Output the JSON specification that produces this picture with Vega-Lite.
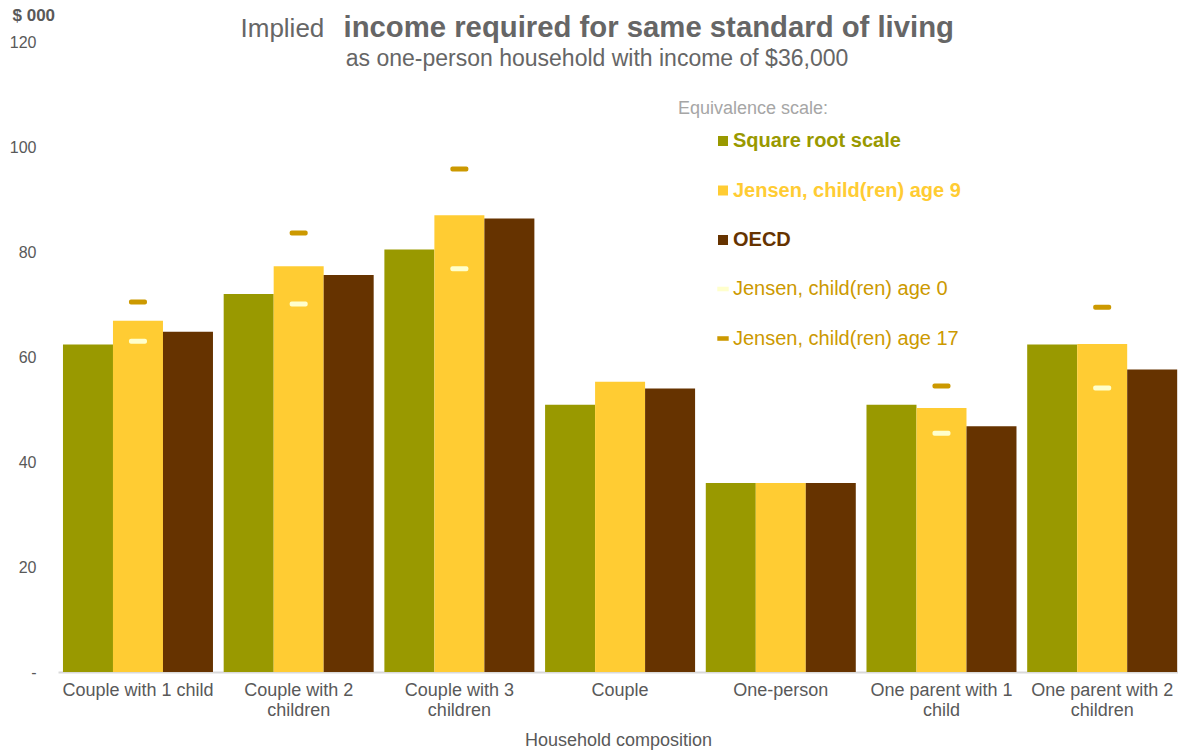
{
  "$schema": "https://vega.github.io/schema/vega-lite/v6.json",
  "width": 1120,
  "height": 630,
  "autosize": "none",
  "padding": {"left": 58, "top": 42, "right": 0, "bottom": 79},
  "background": "white",
  "config": {"view": {"stroke": null}, "font": "Liberation Sans"},
  "title": {
    "text": "as one-person household with income of $36,000",
    "fontSize": 23,
    "fontWeight": "normal",
    "color": "#666666",
    "anchor": "middle",
    "frame": "group",
    "baseline": "alphabetic",
    "dx": -21,
    "offset": -83
  },
  "datasets": {
    "bars": [
      {"household": "Couple with 1 child", "scale": "Square root scale", "value": 62.4},
      {"household": "Couple with 1 child", "scale": "Jensen, child(ren) age 9", "value": 66.9},
      {"household": "Couple with 1 child", "scale": "OECD", "value": 64.8},
      {"household": "Couple with 2 children", "scale": "Square root scale", "value": 72.0},
      {"household": "Couple with 2 children", "scale": "Jensen, child(ren) age 9", "value": 77.3},
      {"household": "Couple with 2 children", "scale": "OECD", "value": 75.6},
      {"household": "Couple with 3 children", "scale": "Square root scale", "value": 80.5},
      {"household": "Couple with 3 children", "scale": "Jensen, child(ren) age 9", "value": 87.0},
      {"household": "Couple with 3 children", "scale": "OECD", "value": 86.4},
      {"household": "Couple", "scale": "Square root scale", "value": 50.9},
      {"household": "Couple", "scale": "Jensen, child(ren) age 9", "value": 55.3},
      {"household": "Couple", "scale": "OECD", "value": 54.0},
      {"household": "One-person", "scale": "Square root scale", "value": 36.0},
      {"household": "One-person", "scale": "Jensen, child(ren) age 9", "value": 36.0},
      {"household": "One-person", "scale": "OECD", "value": 36.0},
      {"household": "One parent with 1 child", "scale": "Square root scale", "value": 50.9},
      {"household": "One parent with 1 child", "scale": "Jensen, child(ren) age 9", "value": 50.3},
      {"household": "One parent with 1 child", "scale": "OECD", "value": 46.8},
      {"household": "One parent with 2 children", "scale": "Square root scale", "value": 62.4},
      {"household": "One parent with 2 children", "scale": "Jensen, child(ren) age 9", "value": 62.5},
      {"household": "One parent with 2 children", "scale": "OECD", "value": 57.6}
    ],
    "markers": [
      {"household": "Couple with 1 child", "scale": "Jensen, child(ren) age 0", "value": 63.0},
      {"household": "Couple with 1 child", "scale": "Jensen, child(ren) age 17", "value": 70.5},
      {"household": "Couple with 2 children", "scale": "Jensen, child(ren) age 0", "value": 70.1},
      {"household": "Couple with 2 children", "scale": "Jensen, child(ren) age 17", "value": 83.6},
      {"household": "Couple with 3 children", "scale": "Jensen, child(ren) age 0", "value": 76.8},
      {"household": "Couple with 3 children", "scale": "Jensen, child(ren) age 17", "value": 95.8},
      {"household": "One parent with 1 child", "scale": "Jensen, child(ren) age 0", "value": 45.5},
      {"household": "One parent with 1 child", "scale": "Jensen, child(ren) age 17", "value": 54.5},
      {"household": "One parent with 2 children", "scale": "Jensen, child(ren) age 0", "value": 54.1},
      {"household": "One parent with 2 children", "scale": "Jensen, child(ren) age 17", "value": 69.5}
    ]
  },
  "layer": [
    {
      "data": {"name": "bars"},
      "mark": {"type": "bar"},
      "encoding": {
        "x": {
          "field": "household",
          "type": "nominal",
          "sort": null,
          "scale": {"paddingInner": 0.0666, "paddingOuter": 0.018, "align": 0.86},
          "axis": {
            "orient": "bottom",
            "title": "Household composition",
            "titleFontSize": 18,
            "titleFontWeight": "normal",
            "titleColor": "#595959",
            "titlePadding": 12,
            "labelAngle": 0,
            "labelFontSize": 18,
            "labelColor": "#595959",
            "labelLineHeight": 20,
            "labelPadding": 9,
            "labelBaseline": "top",
            "labelLimit": 300,
            "labelExpr": "(test(/with/, datum.label) && datum.label != 'Couple with 1 child') ? [substring(datum.label, 0, lastindexof(datum.label, ' ')), substring(datum.label, lastindexof(datum.label, ' ') + 1)] : datum.label",
            "ticks": false,
            "domainColor": "#D9D9D9",
            "domainWidth": 2
          }
        },
        "y": {
          "field": "value",
          "type": "quantitative",
          "scale": {"domain": [0, 120], "nice": false},
          "axis": {
            "orient": "left",
            "values": [0, 20, 40, 60, 80, 100, 120],
            "labelExpr": "datum.value == 0 ? '-  ' : datum.label",
            "grid": false,
            "domain": false,
            "ticks": false,
            "tickSize": 0,
            "labelPadding": 22,
            "labelFontSize": 16,
            "labelColor": "#595959",
            "title": "$ 000",
            "titleAngle": 0,
            "titleAlign": "left",
            "titleBaseline": "middle",
            "titleX": -46,
            "titleY": -27,
            "titleFontSize": 17,
            "titleFontWeight": "bold",
            "titleColor": "#595959"
          }
        },
        "xOffset": {
          "field": "scale",
          "type": "nominal",
          "scale": {"domain": ["Square root scale", "Jensen, child(ren) age 9", "OECD"], "paddingInner": 0, "paddingOuter": 0}
        },
        "color": {
          "field": "scale",
          "type": "nominal",
          "scale": {"domain": ["Square root scale", "Jensen, child(ren) age 9", "OECD"], "range": ["#999900", "#FFCC33", "#663300"]},
          "legend": {
            "orient": "none",
            "legendX": 620,
            "legendY": 58,
            "title": "Equivalence scale:",
            "titleFontSize": 18,
            "titleFontWeight": "normal",
            "titleColor": "#A6A6A6",
            "titlePadding": 13,
            "symbolOffset": 35,
            "symbolType": "square",
            "symbolSize": 100,
            "symbolStrokeWidth": 0,
            "labelFontSize": 20,
            "labelFontWeight": "bold",
            "labelOffset": 0,
            "rowPadding": 29.5,
            "labelLimit": 400,
            "encode": {
              "labels": {
                "update": {
                  "fill": {"signal": "datum.value === 'OECD' ? '#663300' : (datum.value === 'Square root scale' ? '#999900' : '#FFCC33')"}
                }
              }
            }
          }
        }
      }
    },
    {
      "data": {"name": "markers"},
      "mark": {"type": "tick", "size": 18, "thickness": 5, "cornerRadius": 2, "opacity": 1},
      "encoding": {
        "x": {
          "field": "household",
          "type": "nominal",
          "sort": null,
          "axis": {
            "orient": "top",
            "labels": false,
            "ticks": false,
            "domain": false,
            "title": "income required for same standard of living",
            "titleFontSize": 29.3,
            "titleFontWeight": "bold",
            "titleColor": "#666666",
            "titleAlign": "left",
            "titleBaseline": "alphabetic",
            "titleX": 285,
            "titleY": -6
          }
        },
        "y": {
          "field": "value",
          "type": "quantitative",
          "axis": {
            "orient": "right",
            "labels": false,
            "ticks": false,
            "domain": false,
            "grid": false,
            "title": "Implied",
            "titleAngle": 0,
            "titleFontSize": 26,
            "titleFontWeight": "normal",
            "titleColor": "#666666",
            "titleAlign": "left",
            "titleBaseline": "alphabetic",
            "titleX": -938,
            "titleY": -6
          }
        },
        "xOffset": {"datum": "Jensen, child(ren) age 9"},
        "color": {
          "field": "scale",
          "type": "nominal",
          "scale": {"domain": ["Jensen, child(ren) age 0", "Jensen, child(ren) age 17"], "range": ["#FFFFCC", "#CC9900"]},
          "legend": {
            "orient": "none",
            "legendX": 620,
            "legendY": 237,
            "title": null,
            "symbolOffset": 35,
            "symbolType": "M-1,-0.4H1V0.4H-1Z",
            "symbolSize": 130,
            "symbolStrokeWidth": 0,
            "labelFontSize": 20,
            "labelFontWeight": "normal",
            "labelColor": "#CC9900",
            "labelOffset": 0,
            "rowPadding": 29.5,
            "labelLimit": 400
          }
        }
      }
    }
  ],
  "resolve": {"scale": {"color": "independent"}, "axis": {"x": "independent", "y": "independent"}}
}
